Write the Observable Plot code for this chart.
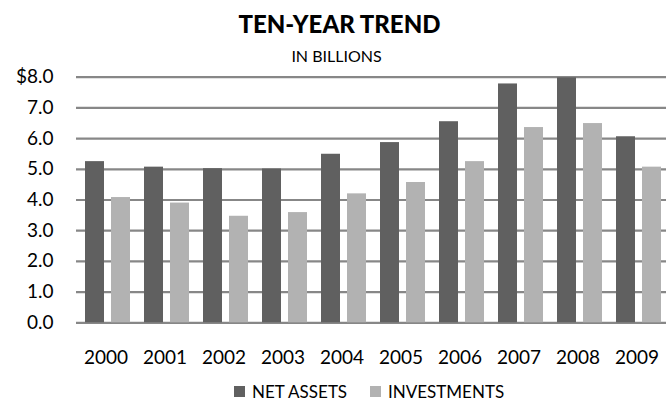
<!DOCTYPE html>
<html>
<head>
<meta charset="utf-8">
<script src="https://cdn.jsdelivr.net/npm/d3@7"></script>
<script src="https://cdn.jsdelivr.net/npm/@observablehq/plot@0.6"></script>
<style>
  html, body { margin: 0; padding: 0; background: #fff; }
  body { width: 667px; height: 401px; position: relative; overflow: hidden; font-family: Lato, "Open Sans", sans-serif; color: #000; }
  #title { position: absolute; top: 12px; left: 6px; width: 667px; text-align: center; font-weight: 900; font-size: 24px; line-height: 24px; }
  #subtitle { position: absolute; top: 48px; left: 3px; width: 667px; text-align: center; font-size: 16px; line-height: 16px; }
  #chart { position: absolute; top: 64px; left: 0; }
  .leg { position: absolute; top: 383px; display: flex; align-items: center; font-size: 17px; line-height: 17px; }
  .sw { width: 11px; height: 11px; margin-right: 7px; }
</style>
</head>
<body>
<div id="title">TEN-YEAR TREND</div>
<div id="subtitle">IN BILLIONS</div>
<div id="chart"></div>
<div id="legend"></div>
<script>
const years = ["2000", "2001", "2002", "2003", "2004", "2005", "2006", "2007", "2008", "2009"];
const netAssets = [5.25, 5.07, 5.02, 5.01, 5.49, 5.87, 6.55, 7.78, 7.98, 6.06];
const investments = [4.08, 3.90, 3.47, 3.59, 4.20, 4.57, 5.25, 6.36, 6.49, 5.07];
const seriesNames = ["NET ASSETS", "INVESTMENTS"];
const seriesColors = ["#606060", "#b2b2b2"];
const yTicks = [0, 1, 2, 3, 4, 5, 6, 7, 8];
const yTickLabels = ["0.0", "1.0", "2.0", "3.0", "4.0", "5.0", "6.0", "7.0", "$8.0"];

const data = years.flatMap((yr, i) => [
  {year: yr, series: seriesNames[0], value: netAssets[i]},
  {year: yr, series: seriesNames[1], value: investments[i]}
]);

const chart = Plot.plot({
  width: 667,
  height: 312,
  marginTop: 12.7,
  marginBottom: 53.7,
  marginLeft: 74,
  marginRight: -1.4,
  style: {fontFamily: "Lato, 'Open Sans', sans-serif", fontSize: "19px", color: "#000", background: "transparent"},
  fx: {domain: years, padding: 0, label: null, axis: "bottom", tickSize: 0, tickPadding: 28},
  x: {domain: seriesNames, range: [83, 129], paddingInner: 0.26, paddingOuter: 0, axis: null},
  y: {domain: [0, 8], ticks: yTicks, tickFormat: d => yTickLabels[yTicks.indexOf(d)], tickSize: 0, tickPadding: 23, label: null},
  color: {domain: seriesNames, range: seriesColors},
  marks: [
    Plot.ruleY(yTicks, {stroke: "#878787", strokeWidth: 2.2}),
    Plot.barY(data, {fx: "year", x: "series", y: "value", fill: "series"})
  ]
});
document.getElementById("chart").appendChild(chart);

const legendLeft = [234, 370];
const legend = document.getElementById("legend");
seriesNames.forEach((name, i) => {
  const item = document.createElement("div");
  item.className = "leg";
  item.style.left = legendLeft[i] + "px";
  const sw = document.createElement("span");
  sw.className = "sw";
  sw.style.background = seriesColors[i];
  const label = document.createElement("span");
  label.textContent = name;
  item.appendChild(sw);
  item.appendChild(label);
  legend.appendChild(item);
});
</script>
</body>
</html>
